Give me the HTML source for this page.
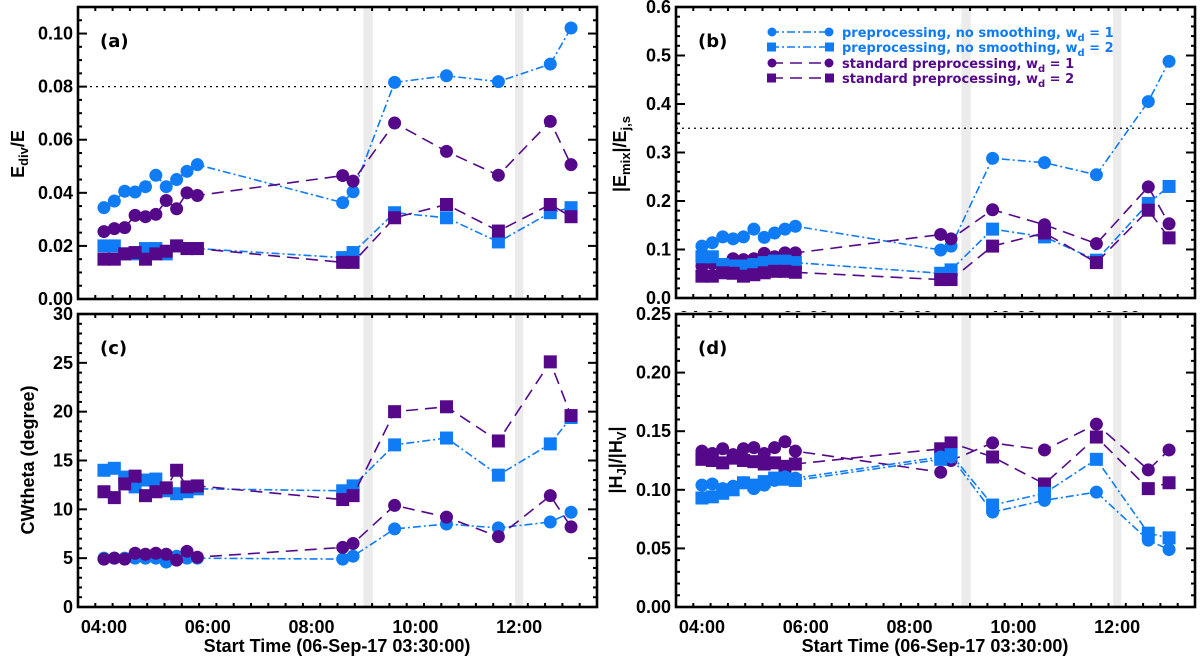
<!DOCTYPE html>
<html><head><meta charset="utf-8">
<style>
html,body{margin:0;padding:0;background:#fff;}
svg{display:block;font-family:"DejaVu Sans","Liberation Sans",sans-serif;}
.tick{font-family:"Liberation Sans",sans-serif;font-weight:bold;font-size:18px;}
</style></head>
<body>
<svg id="chart" width="1200" height="663" viewBox="0 0 1200 663" xmlns="http://www.w3.org/2000/svg"></svg>
<script>
// time of each observation (hours)
const times = [4.0,4.2,4.4,4.6,4.8,5.0,5.2,5.4,5.6,5.8,8.6,8.8,9.6,10.6,11.6,12.6,13.0];
const xTickLabels = ["04:00","06:00","08:00","10:00","12:00"];
const xTickHours = [4,6,8,10,12];
const bands = [[9.0,9.18],[11.92,12.08]];

// panel (a) Ediv/E
const aBlueCirc = [0.0344,0.0369,0.0406,0.0403,0.0423,0.0466,0.0423,0.045,0.0481,0.0506,0.0363,0.0404,0.0816,0.0841,0.0819,0.0885,0.1021];
const aPurpCirc = [0.0254,0.0265,0.0269,0.0315,0.031,0.0319,0.0371,0.034,0.04,0.039,0.0465,0.0444,0.0663,0.0556,0.0466,0.0669,0.0506];
const aBlueSq = [0.020,0.020,0.017,0.017,0.019,0.019,0.017,0.020,0.019,0.019,0.0156,0.0175,0.0325,0.0306,0.0215,0.0325,0.0344];
const aPurpSq = [0.015,0.015,0.017,0.0175,0.015,0.017,0.018,0.020,0.019,0.019,0.0138,0.0138,0.0306,0.0356,0.0256,0.0356,0.031];
const aTicks = ["0.00","0.02","0.04","0.06","0.08","0.10"];

// panel (b) |Emix|/Ej,s
const bBlueCirc = [0.107,0.114,0.126,0.122,0.126,0.142,0.125,0.134,0.142,0.148,0.099,0.107,0.288,0.279,0.254,0.405,0.488];
const bPurpCirc = [0.066,0.071,0.069,0.081,0.079,0.081,0.092,0.085,0.093,0.093,0.131,0.122,0.182,0.151,0.112,0.229,0.153];
const bBlueSq = [0.085,0.085,0.069,0.066,0.066,0.069,0.073,0.076,0.076,0.073,0.051,0.058,0.142,0.126,0.078,0.195,0.230];
const bPurpSq = [0.045,0.045,0.052,0.051,0.045,0.048,0.052,0.055,0.055,0.053,0.038,0.038,0.107,0.134,0.073,0.181,0.124];
const bTicks = ["0.0","0.1","0.2","0.3","0.4","0.5","0.6"];

// panel (c) CWtheta
const cBlueCirc = [5.0,5.0,5.0,5.0,5.0,5.0,4.6,5.2,5.0,5.0,4.9,5.2,8.0,8.5,8.1,8.7,9.7];
const cPurpCirc = [4.9,5.0,4.9,5.5,5.4,5.5,5.4,4.8,5.7,5.1,6.1,6.5,10.4,9.2,7.2,11.4,8.2];
const cBlueSq = [14.0,14.2,13.3,12.3,13.0,13.1,11.9,11.6,11.8,12.1,11.9,12.4,16.6,17.3,13.5,16.7,19.4];
const cPurpSq = [11.8,11.2,12.6,13.4,11.4,11.8,12.2,14.0,12.3,12.4,11.0,11.4,20.0,20.5,17.0,25.1,19.6];
const cTicks = ["0","5","10","15","20","25","30"];

// panel (d) |HJ|/|HV|
const dBlueCirc = [0.104,0.105,0.101,0.103,0.106,0.101,0.104,0.108,0.111,0.110,0.128,0.128,0.081,0.091,0.098,0.057,0.049];
const dBlueSq = [0.093,0.094,0.097,0.100,0.106,0.104,0.107,0.110,0.109,0.108,0.126,0.130,0.087,0.097,0.126,0.063,0.059];
const dPurpCirc = [0.133,0.131,0.135,0.130,0.135,0.136,0.131,0.136,0.141,0.133,0.115,0.125,0.140,0.134,0.156,0.117,0.134];
const dPurpSq = [0.126,0.125,0.123,0.127,0.125,0.124,0.122,0.123,0.120,0.122,0.135,0.140,0.128,0.105,0.145,0.101,0.106];
const dTicks = ["0.00","0.05","0.10","0.15","0.20","0.25"];

const BLUE="#0f7cf6", PURP="#55098a";
const svg=document.getElementById('chart');
const NS="http://www.w3.org/2000/svg";
function mk(tag,attrs,parent){const e=document.createElementNS(NS,tag);for(const k in attrs)e.setAttribute(k,attrs[k]);(parent||svg).appendChild(e);return e;}

function panel(o){
  const g=mk('g',{});
  
  
  const X=h=>o.x0+(h-3.5)/10*(o.x1-o.x0);
  const Y=v=>o.y1-(v-o.ymin)/(o.ymax-o.ymin)*(o.y1-o.y0);
  bands.forEach(b=>{
    const r=mk('rect',{x:X(b[0]),y:o.y0,width:X(b[1])-X(b[0]),height:o.y1-o.y0,fill:'#ebebeb'},g);
    
    
  });
  if(o.ref!=null){
    const l=mk('line',{x1:o.x0,x2:o.x1,y1:Y(o.ref),y2:Y(o.ref),stroke:'#000','stroke-width':1.3,'stroke-dasharray':'2,4'},g);
    
    
  }
  const tg=mk('g',{stroke:'#000'},g);
  for(let m=3.5+1/3;m<13.5;m+=1/3){
    const x=X(m);const major=xTickHours.some(h=>Math.abs(h-m)<0.01);
    const L=major?8:4;
    mk('line',{x1:x,x2:x,y1:o.y1,y2:o.y1-L,'stroke-width':2},tg);
    mk('line',{x1:x,x2:x,y1:o.y0,y2:o.y0+L,'stroke-width':2},tg);
  }
  for(let v=o.ymin+o.minor;v<o.ymax-1e-9;v+=o.minor){
    const y=Y(v);const major=Math.abs((v/o.major)-Math.round(v/o.major))<1e-6;
    const L=major?9:4;
    mk('line',{x1:o.x0,x2:o.x0+L,y1:y,y2:y,'stroke-width':2},tg);
    mk('line',{x1:o.x1,x2:o.x1-L,y1:y,y2:y,'stroke-width':2},tg);
  }
  o.yticks.forEach((t,i)=>{
    const v=o.ymin+i*o.major;
    const tx=mk('text',{x:o.x0-5,y:Y(v)+6,'text-anchor':'end',class:'tick'},g);
    tx.textContent=t;
    
    
  });
  if(o.xlabels!=='none'){
    let cl=null;
    if(o.clipX){const d=mk('clipPath',{id:o.name+'-clip'},g);mk('rect',{x:0,y:o.y1,width:1200,height:o.clipX},d);cl='url(#'+o.name+'-clip)';}
    xTickLabels.forEach((t,i)=>{
      const tx=mk('text',{x:X(xTickHours[i]),y:o.y1+26,'text-anchor':'middle',class:'tick'},g);
      if(cl)tx.setAttribute('clip-path',cl);
      tx.textContent=t;
      
      
    });
  }
  const series=[
    {d:o.s[0],c:BLUE,m:'c',dash:'8,3,2,3'},
    {d:o.s[1],c:BLUE,m:'s',dash:'8,3,2,3'},
    {d:o.s[2],c:PURP,m:'c',dash:'12,7'},
    {d:o.s[3],c:PURP,m:'s',dash:'12,7'}];
  const order=o.order||[0,1,2,3];
  order.forEach(si=>{
    const s=series[si];
    const sg=mk('g',{},g);
    
    
    const pts=s.d.map((v,i)=>X(times[i]).toFixed(1)+','+Y(v).toFixed(1)).join(' ');
    mk('polyline',{points:pts,fill:'none',stroke:s.c,'stroke-width':1.6,'stroke-dasharray':s.dash},sg);
    s.d.forEach((v,i)=>{
      let e;
      if(s.m==='c') e=mk('circle',{cx:X(times[i]),cy:Y(v),r:6.5,fill:s.c},sg);
      else e=mk('rect',{x:X(times[i])-6.5,y:Y(v)-6.5,width:13,height:13,fill:s.c},sg);
      
      
    });
  });
  const f=mk('rect',{x:o.x0,y:o.y0,width:o.x1-o.x0,height:o.y1-o.y0,fill:'none',stroke:'#000','stroke-width':2.6},g);
  
  
  const lab=mk('text',{x:o.x0+22,y:o.y0+40,'font-weight':'bold','font-size':18},g);
  lab.textContent=o.label;
  
  
  return {X,Y,g};
}

panel({name:'panel-a',x0:78,x1:597,y0:7,y1:299,ymin:0,ymax:0.11,major:0.02,minor:0.005,yticks:aTicks,ref:0.08,label:'(a)',s:[aBlueCirc,aBlueSq,aPurpCirc,aPurpSq],order:[0,2,1,3],xlabels:'none'});
panel({name:'panel-b',x0:676,x1:1195,y0:7,y1:298,ymin:0,ymax:0.6,major:0.1,minor:0.02,yticks:bTicks,ref:0.35,label:'(b)',s:[bBlueCirc,bBlueSq,bPurpCirc,bPurpSq],order:[0,2,1,3],clipX:14});
panel({name:'panel-c',x0:78,x1:597,y0:314,y1:607,ymin:0,ymax:30,major:5,minor:1,yticks:cTicks,ref:null,label:'(c)',s:[cBlueCirc,cBlueSq,cPurpCirc,cPurpSq],order:[0,2,1,3]});
panel({name:'panel-d',x0:676,x1:1195,y0:314,y1:607,ymin:0,ymax:0.25,major:0.05,minor:0.01,yticks:dTicks,ref:null,label:'(d)',s:[dBlueCirc,dBlueSq,dPurpCirc,dPurpSq],order:[2,3,0,1]});
</script>
<svg style="position:absolute;left:0;top:0" width="1200" height="663" xmlns="http://www.w3.org/2000/svg">
  <g font-family="Liberation Sans, sans-serif" font-weight="bold" font-size="18" fill="#000">
    <text transform="translate(24,154) rotate(-90)" text-anchor="middle">E<tspan font-size="13" dy="4">div</tspan><tspan dy="-4">/E</tspan></text>
    <text transform="translate(626,154) rotate(-90)" text-anchor="middle">|E<tspan font-size="13" dy="4">mix</tspan><tspan dy="-4">|/E</tspan><tspan font-size="13" dy="4">j,s</tspan></text>
    <text transform="translate(34,460) rotate(-90)" text-anchor="middle">CWtheta (degree)</text>
    <text transform="translate(622,460) rotate(-90)" text-anchor="middle">|H<tspan font-size="13" dy="4">J</tspan><tspan dy="-4">|/|H</tspan><tspan font-size="13" dy="4">V</tspan><tspan dy="-4">|</tspan></text>
    <text x="337" y="652" text-anchor="middle">Start Time (06-Sep-17 03:30:00)</text>
    <text x="935" y="652" text-anchor="middle">Start Time (06-Sep-17 03:30:00)</text>
  </g>
  <g font-family="DejaVu Sans, sans-serif" font-weight="bold" font-size="13">
    <g>
      <line x1="771" x2="829" y1="32" y2="32" stroke="#0f7cf6" stroke-width="1.6" stroke-dasharray="8,3,2,3"/>
      <circle cx="772" cy="32" r="4.5" fill="#0f7cf6"/><circle cx="829" cy="32" r="4.5" fill="#0f7cf6"/>
      <text x="842" y="37" fill="#0f7cf6">preprocessing, no smoothing, w<tspan font-size="10" dy="4">d</tspan><tspan dy="-4"> = 1</tspan></text>
    </g>
    <g>
      <line x1="771" x2="829" y1="47" y2="47" stroke="#0f7cf6" stroke-width="1.6" stroke-dasharray="8,3,2,3"/>
      <rect x="767" y="42.5" width="9" height="9" fill="#0f7cf6"/><rect x="825" y="42.5" width="9" height="9" fill="#0f7cf6"/>
      <text x="842" y="52" fill="#0f7cf6">preprocessing, no smoothing, w<tspan font-size="10" dy="4">d</tspan><tspan dy="-4"> = 2</tspan></text>
    </g>
    <g>
      <line x1="771" x2="829" y1="63" y2="63" stroke="#55098a" stroke-width="1.6" stroke-dasharray="12,7"/>
      <circle cx="772" cy="63" r="4.5" fill="#55098a"/><circle cx="829" cy="63" r="4.5" fill="#55098a"/>
      <text x="842" y="68" fill="#55098a">standard preprocessing, w<tspan font-size="10" dy="4">d</tspan><tspan dy="-4"> = 1</tspan></text>
    </g>
    <g>
      <line x1="771" x2="829" y1="78" y2="78" stroke="#55098a" stroke-width="1.6" stroke-dasharray="12,7"/>
      <rect x="767" y="73.5" width="9" height="9" fill="#55098a"/><rect x="825" y="73.5" width="9" height="9" fill="#55098a"/>
      <text x="842" y="83" fill="#55098a">standard preprocessing, w<tspan font-size="10" dy="4">d</tspan><tspan dy="-4"> = 2</tspan></text>
    </g>
  </g>
</svg>
</body></html>
